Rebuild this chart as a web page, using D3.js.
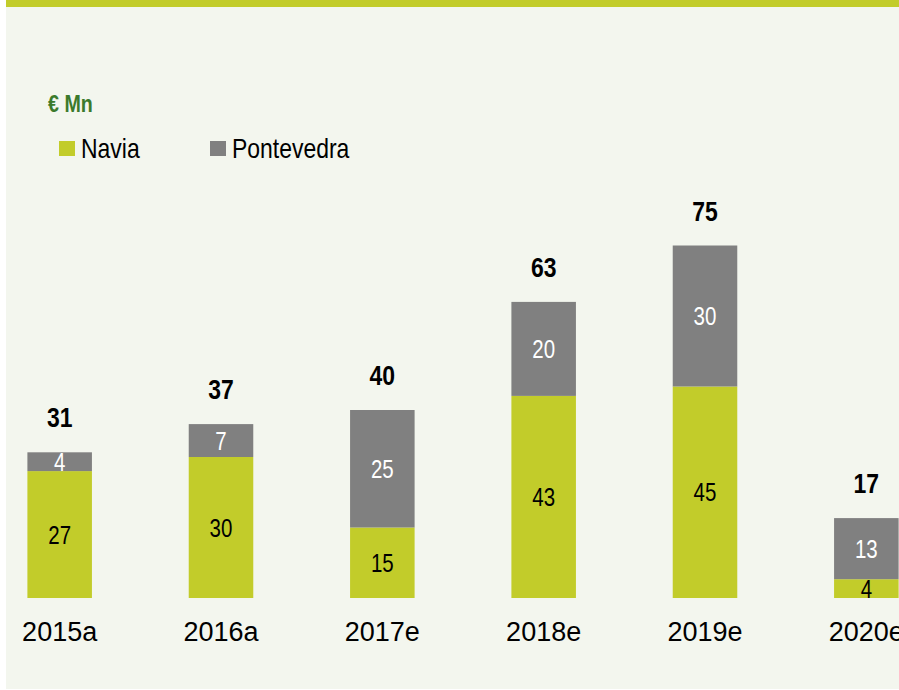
<!DOCTYPE html>
<html>
<head>
<meta charset="utf-8">
<script src="https://cdn.jsdelivr.net/npm/d3@7"></script>
<style>
  html, body { margin: 0; padding: 0; background: #fff; }
  svg { display: block; }
</style>
</head>
<body>
<script>
// data
const years = ["2015a", "2016a", "2017e", "2018e", "2019e", "2020e"];
const navia = [27, 30, 15, 43, 45, 4];
const pontevedra = [4, 7, 25, 20, 30, 13];
const totals = [31, 37, 40, 63, 75, 17];
const seriesNames = ["Navia", "Pontevedra"];

const width = 899;
const height = 690;
const green = "#c2cc2a";
const grey = "#808080";
const font = "'Liberation Sans', Arial, sans-serif";
const squeeze = 0.82; // Arial Narrow look-alike

const svg = d3.select("body").append("svg")
  .attr("width", width)
  .attr("height", height);

// panel background + top band
svg.append("rect").attr("x", 6).attr("y", 0).attr("width", width - 6).attr("height", 689).attr("fill", "#f3f6ee");
svg.append("rect").attr("x", 6).attr("y", 0).attr("width", width - 6).attr("height", 7).attr("fill", green);

const x = d3.scaleBand().domain(years).range([-21, 947]).paddingInner(0.6).paddingOuter(0.3);
const y = d3.scaleLinear().domain([0, 100]).range([598, 128]);
const color = d3.scaleOrdinal().domain(seriesNames).range([green, grey]);

const table = years.map((yr, i) => ({ year: yr, Navia: navia[i], Pontevedra: pontevedra[i], total: totals[i] }));
const stacked = d3.stack().keys(seriesNames)(table);

const g = svg.append("g");

const layers = g.selectAll("g.layer").data(stacked).enter().append("g")
  .attr("class", "layer")
  .attr("fill", d => color(d.key));

layers.selectAll("rect").data(d => d).enter().append("rect")
  .attr("x", d => x(d.data.year))
  .attr("y", d => y(d[1]))
  .attr("width", x.bandwidth())
  .attr("height", d => y(d[0]) - y(d[1]));

// segment labels
stacked.forEach(layer => {
  g.selectAll(null).data(layer).enter().append("text")
    .attr("transform", d => `translate(${x(d.data.year) + x.bandwidth() / 2},${(y(d[0]) + y(d[1])) / 2 + 9}) scale(${squeeze},1)`)
    .attr("text-anchor", "middle")
    .attr("font-family", font)
    .attr("font-size", 25)
    .attr("fill", layer.key === "Navia" ? "#000" : "#fff")
    .text(d => d[1] - d[0]);
});

// totals
g.selectAll("text.total").data(table).enter().append("text")
  .attr("class", "total")
  .attr("transform", d => `translate(${x(d.year) + x.bandwidth() / 2},${y(d.total) - 25}) scale(${squeeze},1)`)
  .attr("text-anchor", "middle")
  .attr("font-family", font)
  .attr("font-weight", "bold")
  .attr("font-size", 28)
  .attr("fill", "#000")
  .text(d => d.total);

// category axis
const xAxis = g.append("g")
  .attr("transform", `translate(0,${y(0)})`)
  .call(d3.axisBottom(x).tickSize(0).tickPadding(24));
xAxis.select(".domain").remove();
xAxis.selectAll("text")
  .attr("font-family", font)
  .attr("font-size", 27)
  .attr("fill", "#000");

// unit label
svg.append("text")
  .attr("transform", `translate(48,112) scale(${squeeze},1)`)
  .attr("font-family", font)
  .attr("font-weight", "bold")
  .attr("font-size", 24)
  .attr("fill", "#3b7a2c")
  .text("€ Mn");

// legend
const legendX = [59, 210];
const legend = svg.selectAll("g.legend").data(seriesNames).enter().append("g")
  .attr("class", "legend")
  .attr("transform", (d, i) => `translate(${legendX[i]},141)`);
legend.append("rect").attr("width", 16).attr("height", 15).attr("fill", d => color(d));
legend.append("text")
  .attr("transform", `translate(22,17) scale(${squeeze},1)`)
  .attr("font-family", font)
  .attr("font-size", 28)
  .attr("fill", "#000")
  .text(d => d);
</script>
</body>
</html>
